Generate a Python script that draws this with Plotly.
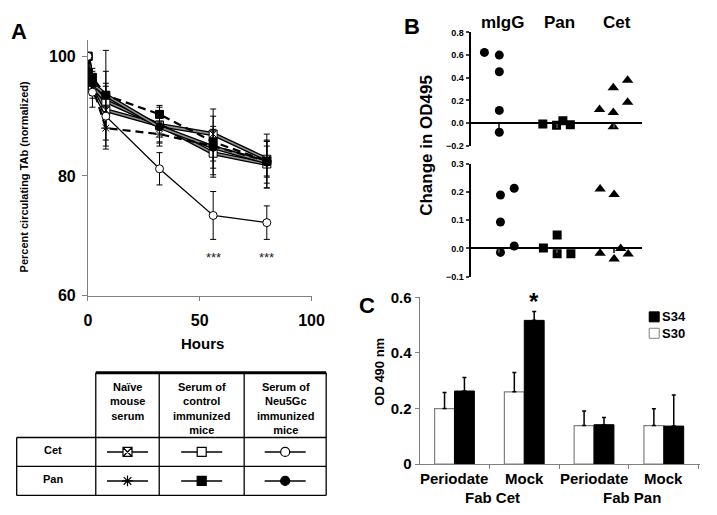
import plotly.graph_objects as go

W, H = 717, 515
FONT = "Liberation Sans, Arial, sans-serif"


def px(x):
    return x / W


def py(y):
    return 1 - y / H


# ---------------- Panel A data ----------------
hours = [0, 2, 8, 32, 56, 80]
cet_naive = [100, 95.5, 91.0, 88.5, 87.0, 82.8]
cet_naive_sd = [0, 1.5, 3.0, 2.0, 3.0, 3.0]
pan_naive = [100, 95.0, 88.0, 87.0, 85.0, 82.5]
pan_naive_sd = [0, 1.5, 3.5, 2.0, 2.5, 2.5]
cet_control = [100, 95.0, 92.5, 88.5, 83.8, 82.0]
cet_control_sd = [0, 2.0, 3.0, 3.0, 4.0, 4.0]
pan_control = [100, 96.5, 93.5, 90.3, 85.7, 82.5]
pan_control_sd = [0, 1.5, 7.5, 1.5, 5.5, 4.5]
cet_neu5gc = [100, 94.0, 90.0, 81.2, 73.4, 72.2]
cet_neu5gc_sd = [0, 2.5, 5.0, 2.7, 4.0, 2.8]
pan_neu5gc = [100, 95.5, 93.5, 88.2, 84.8, 82.3]
pan_neu5gc_sd = [0, 2.0, 4.0, 2.5, 3.5, 3.5]
signif_hours = [56, 80]
signif_text = ["***", "***"]

a_xticks = [0, 50, 100]
a_yticks = [60, 80, 100]

# table
table_rows = ["Cet", "Pan"]
table_cols = ["Naïve<br>mouse<br>serum", "Serum of<br>control<br>immunized<br>mice",
              "Serum of<br>Neu5Gc<br>immunized<br>mice"]

# ---------------- Panel B data ----------------
b_categories = ["mIgG", "Pan", "Cet"]
b_top_migg_x = [0.24, 0.5, 0.5, 0.5, 0.5]
b_top_migg_y = [0.624, 0.60, 0.453, 0.112, -0.081]
b_top_pan_x = [1.26, 1.5, 1.61, 1.74]
b_top_pan_y = [-0.008, -0.02, 0.021, -0.015]
b_top_cet_x = [2.25, 2.49, 2.49, 2.49, 2.74, 2.74]
b_top_cet_y = [0.121, 0.311, 0.093, -0.032, 0.377, 0.183]

b_bot_migg_x = [0.52, 0.52, 0.52, 0.76, 0.76]
b_bot_migg_y = [0.190, 0.094, -0.014, 0.214, 0.009]
b_bot_pan_x = [1.27, 1.51, 1.51, 1.75]
b_bot_pan_y = [0.002, 0.048, -0.019, -0.019]
b_bot_cet_x = [2.26, 2.26, 2.505, 2.505, 2.62, 2.75]
b_bot_cet_y = [0.211, -0.017, 0.192, -0.037, 0.0, -0.02]

# ---------------- Panel C data ----------------
c_groups = ["Periodate", "Mock", "Periodate", "Mock"]
c_supergroups = ["Fab Cet", "Fab Pan"]
c_s30 = [0.200, 0.260, 0.139, 0.139]
c_s30_err = [0.058, 0.070, 0.052, 0.060]
c_s34 = [0.263, 0.517, 0.142, 0.137]
c_s34_err = [0.049, 0.032, 0.026, 0.112]

fig = go.Figure()

# ---------- Panel A traces ----------
styles = [
    # (y, sd, symbol, fill, line colour, width, dash, double)
    (cet_naive, cet_naive_sd, "square-x", "white", "#8c8c8c", 1.6, "solid", True),
    (cet_control, cet_control_sd, "square", "white", "#8c8c8c", 1.6, "solid", True),
    (pan_neu5gc, pan_neu5gc_sd, "circle", "black", "#8c8c8c", 1.6, "solid", True),
    (pan_naive, pan_naive_sd, "asterisk-open", "black", "black", 2.2, "8px,5px", False),
    (pan_control, pan_control_sd, "square", "black", "black", 2.2, "8px,5px", False),
    (cet_neu5gc, cet_neu5gc_sd, "circle", "white", "black", 1.3, "solid", False),
]
for yv, sd, sym, fill, lc, lw, dash, double in styles:
    if double:
        fig.add_trace(go.Scatter(x=hours, y=yv, mode="lines", xaxis="x", yaxis="y",
                                 line=dict(color="black", width=4.2), showlegend=False))
    fig.add_trace(go.Scatter(
        x=hours, y=yv, mode="lines+markers", xaxis="x", yaxis="y",
        line=dict(color=lc, width=lw, dash=dash),
        marker=dict(symbol=sym, size=8, color=fill, line=dict(color="black", width=1)),
        error_y=dict(type="data", array=sd, visible=True, color="black", thickness=1, width=3),
        showlegend=False))

for h, t in zip(signif_hours, signif_text):
    fig.add_annotation(x=h, y=66.3, xref="x", yref="y", text=t, showarrow=False,
                       xanchor="center", yanchor="middle",
                       font=dict(family=FONT, size=13, color="#222"))

# ---------- Panel B traces ----------
for xs, ys, sym, ax in [
    (b_top_migg_x, b_top_migg_y, "circle", 2), (b_top_pan_x, b_top_pan_y, "square", 2),
    (b_top_cet_x, b_top_cet_y, "triangle-up", 2),
    (b_bot_migg_x, b_bot_migg_y, "circle", 3), (b_bot_pan_x, b_bot_pan_y, "square", 3),
    (b_bot_cet_x, b_bot_cet_y, "triangle-up", 3)]:
    fig.add_trace(go.Scatter(x=xs, y=ys, mode="markers", xaxis=f"x{ax}", yaxis=f"y{ax}",
                             marker=dict(symbol=sym, size=10 if sym == "triangle-up" else 9,
                                         color="black", line=dict(width=0)),
                             showlegend=False))

# ---------- Panel C traces ----------
c_x = list(range(len(c_groups)))
fig.add_trace(go.Bar(x=c_x, y=c_s30, xaxis="x4", yaxis="y4", name="S30",
                     marker=dict(color="white", line=dict(color="#808080", width=1.2)),
                     error_y=dict(type="data", symmetric=False, array=c_s30_err,
                                  arrayminus=[0] * 4, color="black", thickness=1.5, width=2),
                     showlegend=False))
fig.add_trace(go.Bar(x=c_x, y=c_s34, xaxis="x4", yaxis="y4", name="S34",
                     marker=dict(color="black", line=dict(color="black", width=1)),
                     error_y=dict(type="data", symmetric=False, array=c_s34_err,
                                  arrayminus=[0] * 4, color="black", thickness=1.5, width=2),
                     showlegend=False))

bargap = 0.43
bar_w = (1 - bargap) / 2
# significance star over Mock / S34
fig.add_annotation(x=1 + bar_w / 2, y=c_s34[1] + c_s34_err[1], xref="x4", yref="y4",
                   text="*", showarrow=False, xanchor="center", yanchor="bottom", yshift=-6,
                   font=dict(family=FONT, size=24, color="black", weight="bold"))

for i, g in enumerate(c_groups):
    fig.add_annotation(x=i, y=py(487), xref="x4", yref="paper", text=g, showarrow=False,
                       xanchor="center", yanchor="middle",
                       font=dict(family=FONT, size=15, color="black", weight="bold"))
for i, g in enumerate(c_supergroups):
    fig.add_annotation(x=2 * i + 0.55, y=py(506), xref="x4", yref="paper", text=g,
                       showarrow=False, xanchor="center", yanchor="middle",
                       font=dict(family=FONT, size=15, color="black", weight="bold"))

# legend for C (custom, on the overlay axis in pixel units)
leg_items = [("S34", "black", "black", 319), ("S30", "white", "#808080", 336)]
for name, fc, lc, yy in leg_items:
    fig.add_trace(go.Scatter(x=[666], y=[yy], mode="markers", xaxis="x5", yaxis="y5",
                             marker=dict(symbol="square", size=10, color=fc,
                                         line=dict(color=lc, width=1)), showlegend=False))
    fig.add_annotation(x=672, y=yy, xref="x5", yref="y5", text=name, showarrow=False,
                       xanchor="left", yanchor="middle",
                       font=dict(family=FONT, size=13, color="black", weight="bold"))

# ---------- Table below A ----------
col_x = [13, 94, 159, 246, 330]
row_y = [377, 444, 474, 504]
lw_t = 1.3
shapes = []
shapes.append(dict(type="line", xref="x5", yref="y5", x0=col_x[1], x1=col_x[4],
                   y0=row_y[0], y1=row_y[0], line=dict(color="black", width=3)))
for r in row_y[1:]:
    shapes.append(dict(type="line", xref="x5", yref="y5", x0=col_x[0], x1=col_x[4],
                       y0=r, y1=r, line=dict(color="black", width=lw_t)))
shapes.append(dict(type="line", xref="x5", yref="y5", x0=col_x[0], x1=col_x[0],
                   y0=row_y[1], y1=row_y[3], line=dict(color="black", width=lw_t)))
for c in col_x[1:]:
    shapes.append(dict(type="line", xref="x5", yref="y5", x0=c, x1=c,
                       y0=row_y[0], y1=row_y[3], line=dict(color="black", width=lw_t)))

for j, txt in enumerate(table_cols):
    cx = (col_x[j + 1] + col_x[j + 2]) / 2
    fig.add_annotation(x=cx, y=383, xref="x5", yref="y5", text=txt, showarrow=False,
                       xanchor="center", yanchor="top", align="center",
                       font=dict(family=FONT, size=11, color="black", weight="bold"))
for i, txt in enumerate(table_rows):
    cy = (row_y[i + 1] + row_y[i + 2]) / 2
    fig.add_annotation(x=(col_x[0] + col_x[1]) / 2 - 3, y=cy - 2, xref="x5", yref="y5",
                       text=txt, showarrow=False, xanchor="center", yanchor="middle",
                       font=dict(family=FONT, size=11, color="black", weight="bold"))

table_symbols = [["square-x", "square", "circle"],
                 ["asterisk-open", "square", "circle"]]
table_fills = [["white", "white", "white"], ["black", "black", "black"]]
for i in range(2):
    cy = (row_y[i + 1] + row_y[i + 2]) / 2
    for j in range(3):
        cx = (col_x[j + 1] + col_x[j + 2]) / 2
        fig.add_trace(go.Scatter(x=[cx - 21, cx + 21], y=[cy, cy], mode="lines",
                                 xaxis="x5", yaxis="y5",
                                 line=dict(color="black", width=1.5), showlegend=False))
        fig.add_trace(go.Scatter(x=[cx], y=[cy], mode="markers", xaxis="x5", yaxis="y5",
                                 marker=dict(symbol=table_symbols[i][j], size=9,
                                             color=table_fills[i][j],
                                             line=dict(color="black", width=1.2)),
                                 showlegend=False))


# ---------- Panel labels and axis titles ----------
def ann(x, y, text, size, angle=0, **kw):
    fig.add_annotation(x=px(x), y=py(y), xref="paper", yref="paper", text=text,
                       showarrow=False, textangle=angle, xanchor="center", yanchor="middle",
                       font=dict(family=FONT, size=size, color="black", weight="bold"), **kw)


ann(15, 23, "A", 22)
ann(418, 18, "B", 22)
ann(372, 307, "C", 22)
ann(20, 174, "Percent circulating TAb (normalized)", 11, angle=-90)
ann(203, 347, "Hours", 15)
ann(432, 141, "Change in OD495", 17, angle=-90)
ann(385, 376, "OD 490 nm", 13, angle=-90)

# B category labels on top
b_top_dom = [py(141.7), py(24.3)]
b_bot_dom = [py(277.3), py(160.7)]
b_xdom = [px(478), px(654)]
for k, c in enumerate(b_categories):
    fig.add_annotation(x=k + 0.5, y=py(14), xref="x2", yref="paper", text=c,
                       showarrow=False, xshift=3, xanchor="center", yanchor="middle",
                       font=dict(family=FONT, size=17, color="black", weight="bold"))


def zero_pos(dom, rng):
    return dom[0] + (0 - rng[0]) / (rng[1] - rng[0]) * (dom[1] - dom[0])


b_top_rng = [-0.2, 0.8]
b_bot_rng = [-0.1, 0.3]

tickfontA = dict(family=FONT, size=16, color="black", weight="bold")
tickfontB = dict(family=FONT, size=9, color="black", weight="bold")
tickfontC = dict(family=FONT, size=15, color="black", weight="bold")

fig.update_layout(
    width=W, height=H, margin=dict(l=0, r=0, t=0, b=0),
    paper_bgcolor="white", plot_bgcolor="rgba(0,0,0,0)",
    showlegend=False, bargap=bargap, barmode="group", bargroupgap=0,
    shapes=shapes,
    xaxis=dict(domain=[px(86), px(315)], range=[0, 100], anchor="y",
               tickvals=a_xticks, ticks="outside", ticklen=4, tickcolor="#808080",
               showline=True, linecolor="#808080", linewidth=1, showgrid=False,
               zeroline=False, tickfont=tickfontA, ticklabelstandoff=6),
    yaxis=dict(domain=[py(297), py(31.7)], range=[60, 102.8], anchor="x",
               tickvals=a_yticks, ticks="outside", ticklen=5, tickcolor="#808080",
               showline=True, linecolor="#808080", linewidth=1, showgrid=False,
               zeroline=False, tickfont=tickfontA, ticklabelstandoff=3),
    xaxis2=dict(domain=b_xdom, range=[0, 3], anchor="free",
                position=zero_pos(b_top_dom, b_top_rng),
                tickvals=[0.5, 1.5, 2.5], showticklabels=False, ticks="outside", ticklen=4,
                tickwidth=1.5, showline=True, linecolor="black", linewidth=2,
                showgrid=False, zeroline=False),
    yaxis2=dict(domain=b_top_dom, range=b_top_rng, anchor="x2",
                tickvals=[-0.2, 0, 0.2, 0.4, 0.6, 0.8], tickformat=".1f",
                ticks="outside", ticklen=3, tickwidth=1.5, showline=True,
                linecolor="black", linewidth=2, showgrid=False, zeroline=False,
                tickfont=tickfontB),
    xaxis3=dict(domain=b_xdom, range=[0, 3], anchor="free",
                position=zero_pos(b_bot_dom, b_bot_rng),
                tickvals=[0.5, 1.5, 2.5], showticklabels=False, ticks="outside", ticklen=4,
                tickwidth=1.5, showline=True, linecolor="black", linewidth=2,
                showgrid=False, zeroline=False),
    yaxis3=dict(domain=b_bot_dom, range=b_bot_rng, anchor="x3",
                tickvals=[-0.1, 0, 0.1, 0.2, 0.3], tickformat=".1f",
                ticks="outside", ticklen=3, tickwidth=1.5, showline=True,
                linecolor="black", linewidth=2, showgrid=False, zeroline=False,
                tickfont=tickfontB),
    xaxis4=dict(domain=[px(425.7), px(713)], range=[-0.5, 3.52], anchor="y4",
                tickvals=[0.5, 1.5, 2.5, 3.5], showticklabels=False, ticks="outside",
                ticklen=4, tickcolor="#808080", showline=True, linecolor="#808080",
                linewidth=1, showgrid=False, zeroline=False),
    yaxis4=dict(domain=[py(471.7), py(298.7)], range=[0, 0.6], anchor="x4",
                tickvals=[0, 0.2, 0.4, 0.6], ticktext=["0", "0.2", "0.4", "0.6"],
                ticks="outside", ticklen=4, tickcolor="#808080", showline=True,
                linecolor="#808080", linewidth=1, showgrid=False, zeroline=False,
                tickfont=tickfontC),
    xaxis5=dict(domain=[0, 1], range=[0, W], anchor="y5", visible=False, fixedrange=True),
    yaxis5=dict(domain=[0, 1], range=[H, 0], anchor="x5", visible=False, fixedrange=True),
)

POST = ("document.documentElement.style.overflow='hidden';"
        "document.body.style.margin='0';document.body.style.padding='0';"
        "document.body.style.overflow='hidden';"
        "var d=document.getElementById('{plot_id}');"
        "d.style.position='fixed';d.style.left='0px';d.style.top='0px';")

fig.write_html("out.html", config={"displayModeBar": False}, post_script=POST)
